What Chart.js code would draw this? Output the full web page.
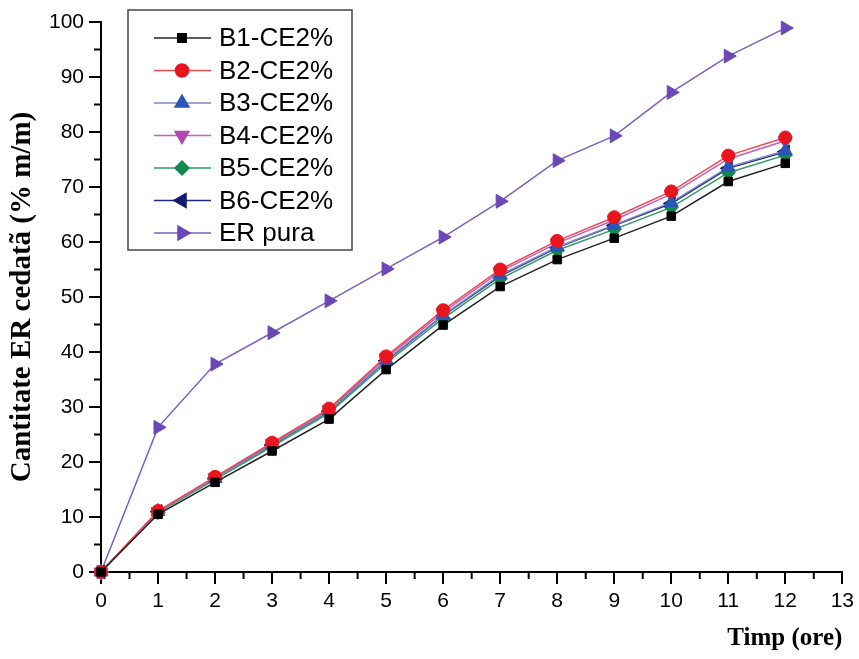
<!DOCTYPE html>
<html>
<head>
<meta charset="utf-8">
<script src="https://cdn.jsdelivr.net/npm/chart.js@4/dist/chart.umd.min.js"></script>
<style>
  html, body { margin: 0; padding: 0; background: #fff; }
  #wrap { width: 859px; height: 659px; }
</style>
</head>
<body>
<div id="wrap"><canvas id="releaseChart"></canvas></div>
<script>
const hours = [0, 1, 2, 3, 4, 5, 6, 7, 8, 9, 10, 11, 12];

const b1 = [0, 10.5, 16.3, 22.0, 27.8, 36.8, 44.9, 51.9, 56.8, 60.7, 64.7, 71.0, 74.3];
const b2 = [0, 11.1, 17.3, 23.5, 29.7, 39.2, 47.6, 55.0, 60.2, 64.5, 69.2, 75.7, 79.0];
const b3 = [0, 11.0, 17.0, 23.2, 29.3, 38.5, 46.7, 54.0, 59.1, 63.1, 67.2, 73.6, 76.6];
const b4 = [0, 11.0, 17.2, 23.4, 29.5, 38.9, 47.2, 54.6, 59.8, 64.0, 68.7, 75.1, 78.4];
const b5 = [0, 10.8, 16.8, 22.8, 28.9, 38.0, 46.1, 53.3, 58.5, 62.3, 66.3, 72.6, 75.8];
const b6 = [0, 11.0, 17.0, 23.1, 29.2, 38.4, 46.6, 53.8, 59.0, 63.0, 67.0, 73.4, 76.4];
const erPura = [0, 26.3, 37.8, 43.5, 49.3, 55.1, 60.9, 67.4, 74.8, 79.3, 87.2, 93.8, 98.9];

const xTicks = [0, 1, 2, 3, 4, 5, 6, 7, 8, 9, 10, 11, 12, 13];
const yTicks = [0, 10, 20, 30, 40, 50, 60, 70, 80, 90, 100];

function pts(values) {
    return hours.map((h, i) => ({ x: h, y: values[i] }));
}

function series(label, values, line, fill, style, rotation, radius) {
    return {
        label: label,
        data: pts(values),
        borderColor: line,
        borderWidth: 1.5,
        backgroundColor: fill,
        pointBackgroundColor: fill,
        pointBorderColor: fill,
        pointBorderWidth: 1,
        pointStyle: style,
        pointRotation: rotation,
        pointRadius: radius,
        tension: 0,
        clip: false
    };
}

// legend drawn inside the plot, framed like the original
const boxLegend = {
    id: 'boxLegend',
    afterDatasetsDraw(chart) {
        const ctx = chart.ctx;
        const area = chart.chartArea;
        const left = area.left + 27;
        const top = area.top - 12;
        const w = 224;
        const h = 240;
        ctx.save();
        ctx.fillStyle = '#fff';
        ctx.fillRect(left, top, w, h);
        ctx.strokeStyle = '#444';
        ctx.lineWidth = 1.5;
        ctx.strokeRect(left, top, w, h);
        ctx.font = '26px "Liberation Sans", Arial, sans-serif';
        ctx.textBaseline = 'middle';
        chart.data.datasets.forEach((ds, i) => {
            const y = top + 28 + i * 32.5;
            ctx.strokeStyle = ds.borderColor;
            ctx.lineWidth = 1.5;
            ctx.beginPath();
            ctx.moveTo(left + 26, y);
            ctx.lineTo(left + 83, y);
            ctx.stroke();
            ctx.fillStyle = ds.pointBackgroundColor;
            ctx.strokeStyle = ds.pointBorderColor;
            Chart.helpers.drawPoint(ctx, {
                pointStyle: ds.pointStyle,
                rotation: ds.pointRotation,
                radius: ds.pointRadius,
                borderWidth: 1
            }, left + 54, y);
            ctx.fillStyle = '#000';
            ctx.fillText(ds.label, left + 91, y + 1);
        });
        ctx.restore();
    }
};

// short minor ticks half way between the labelled ones
const minorTicks = {
    id: 'minorTicks',
    afterDraw(chart) {
        const ctx = chart.ctx;
        const xs = chart.scales.x;
        const ys = chart.scales.y;
        ctx.save();
        ctx.strokeStyle = '#000';
        ctx.lineWidth = 2;
        ctx.beginPath();
        for (let v = 0.5; v < 13; v += 1) {
            const px = xs.getPixelForValue(v);
            ctx.moveTo(px, ys.bottom);
            ctx.lineTo(px, ys.bottom + 7);
        }
        for (let v = 5; v < 100; v += 10) {
            const py = ys.getPixelForValue(v);
            ctx.moveTo(xs.left, py);
            ctx.lineTo(xs.left - 7, py);
        }
        ctx.stroke();
        ctx.restore();
    }
};

const ctx = document.getElementById('releaseChart');

new Chart(ctx, {
    type: 'line',
    data: {
        datasets: [
            series('B1-CE2%', b1, '#222222', '#000000', 'rect', 0, 6),
            series('B2-CE2%', b2, '#ee4a50', '#e8141e', 'circle', 0, 6.5),
            series('B3-CE2%', b3, '#7f86c8', '#2a56b8', 'triangle', 0, 8),
            series('B4-CE2%', b4, '#c060c0', '#b048b0', 'triangle', 180, 8),
            series('B5-CE2%', b5, '#2f9a64', '#12884a', 'rectRot', 0, 7),
            series('B6-CE2%', b6, '#1e2a78', '#151a6a', 'triangle', 270, 8),
            series('ER pura', erPura, '#7a60c0', '#6a48b8', 'triangle', 90, 8)
        ]
    },
    options: {
        responsive: true,
        maintainAspectRatio: false,
        animation: false,
        layout: {
            padding: { left: 0, right: 14, top: 22, bottom: 0 }
        },
        plugins: {
            legend: { display: false },
            tooltip: { enabled: false }
        },
        scales: {
            x: {
                type: 'linear',
                min: 0,
                max: 13,
                afterBuildTicks(scale) {
                    scale.ticks = xTicks.map(v => ({ value: v }));
                },
                afterFit(scale) {
                    scale.height = 87;
                },
                border: { display: true, color: '#000', width: 2 },
                grid: {
                    drawOnChartArea: false,
                    drawTicks: true,
                    tickLength: 12,
                    color: '#000',
                    lineWidth: 2
                },
                ticks: {
                    color: '#000',
                    padding: 5,
                    font: { family: '"Liberation Sans", Arial, sans-serif', size: 21 }
                },
                title: {
                    display: true,
                    text: 'Timp (ore)',
                    align: 'end',
                    color: '#000',
                    padding: { top: 0, bottom: 5 },
                    font: { family: '"Liberation Serif", "Times New Roman", serif', size: 25, weight: 'bold' }
                }
            },
            y: {
                min: 0,
                max: 100,
                afterBuildTicks(scale) {
                    scale.ticks = yTicks.map(v => ({ value: v }));
                },
                afterFit(scale) {
                    scale.width = 101;
                },
                border: { display: true, color: '#000', width: 2 },
                grid: {
                    drawOnChartArea: false,
                    drawTicks: true,
                    tickLength: 12,
                    color: '#000',
                    lineWidth: 2
                },
                ticks: {
                    color: '#000',
                    padding: 5,
                    font: { family: '"Liberation Sans", Arial, sans-serif', size: 21 }
                },
                title: {
                    display: true,
                    text: 'Cantitate ER cedatã (% m/m)',
                    color: '#000',
                    padding: { top: 5, bottom: 0 },
                    font: { family: '"Liberation Serif", "Times New Roman", serif', size: 29, weight: 'bold' }
                }
            }
        }
    },
    plugins: [boxLegend, minorTicks]
});
</script>
</body>
</html>
